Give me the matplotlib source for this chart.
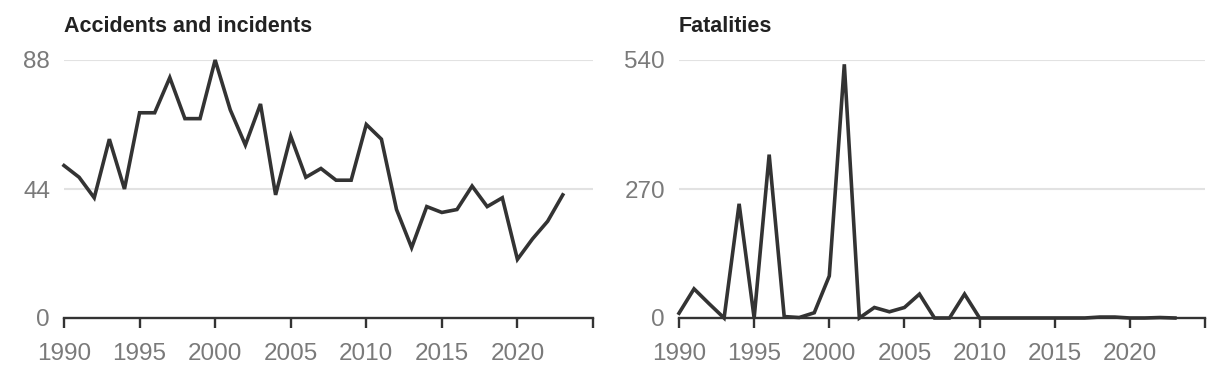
import matplotlib
matplotlib.use('Agg')
import matplotlib.pyplot as plt

years = list(range(1990, 2024))
accidents = [52, 48, 41, 61, 44, 70, 70, 82, 68, 68,
             88, 71, 59, 73, 42, 62, 48, 51, 47, 47,
             66, 61, 37, 24, 38, 36, 37, 45, 38, 41,
             20, 27, 33, 42]
fatalities = [10, 61, 30, 0, 239, 0, 342, 3, 1, 11,
              88, 531, 0, 22, 13, 22, 50, 0, 0, 50,
              0, 0, 0, 0, 0, 0, 0, 0, 2, 2,
              0, 0, 1, 0]

panels = [
    ('Accidents and incidents', accidents, [0, 44, 88]),
    ('Fatalities', fatalities, [0, 270, 540]),
]
xticks = [1990, 1995, 2000, 2005, 2010, 2015, 2020, 2025]
xlabels = ['1990', '1995', '2000', '2005', '2010', '2015', '2020', '']

plt.rcParams['font.family'] = ['Liberation Sans', 'DejaVu Sans']

W, H = 1220, 378
fig = plt.figure(figsize=(W / 100, H / 100), dpi=100)

# axes boxes in pixels: left, right
boxes = [(64, 593), (679, 1205)]
top, bottom = 60, 318

for (title, vals, yt), (x0, x1) in zip(panels, boxes):
    ax = fig.add_axes([x0 / W, 1 - bottom / H, (x1 - x0) / W, (bottom - top) / H])
    ax.plot(years, vals, color='#333333', lw=2.6, solid_joinstyle='miter',
            clip_on=False, zorder=3)
    ax.set_xlim(1990, 2025)
    ax.set_ylim(0, yt[-1])
    ax.set_yticks(yt)
    ax.set_yticklabels([str(v) for v in yt])
    ax.set_xticks(xticks)
    ax.set_xticklabels(xlabels)
    for v in yt[1:]:
        ax.axhline(v, color='#e2e2e2', lw=1.5, zorder=1)
    for s in ['top', 'right', 'left']:
        ax.spines[s].set_visible(False)
    ax.spines['bottom'].set_color('#333333')
    ax.spines['bottom'].set_linewidth(1.7)
    ax.spines['bottom'].set_zorder(4)
    ax.tick_params(axis='x', length=7, width=1.7, color='#333333',
                   labelsize=17.5, labelcolor='#7a7a7a', pad=11)
    ax.tick_params(axis='y', length=0, labelsize=17.5, labelcolor='#7a7a7a', pad=10)
    fig.text(x0 / W, 1 - 32 / H, title, fontsize=15.5, fontweight='bold',
             color='#222222', va='baseline', ha='left')

fig.savefig('out.png', dpi=100)
